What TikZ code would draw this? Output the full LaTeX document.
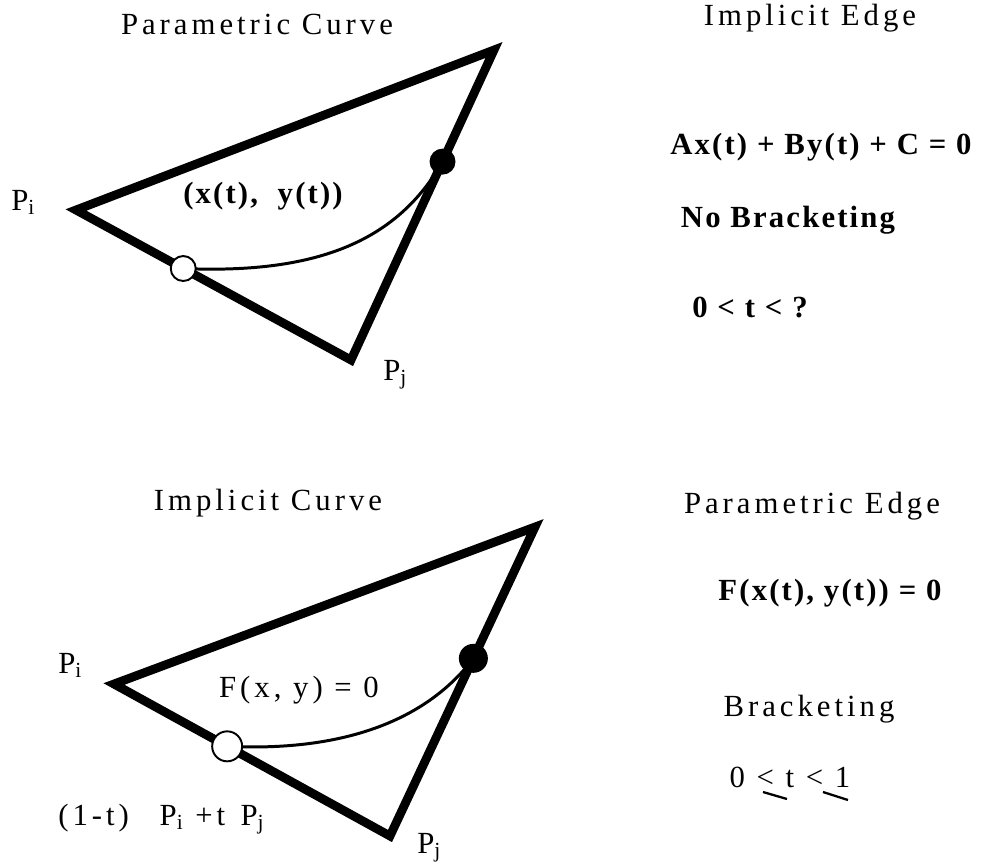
\documentclass[tikz,border=0pt]{standalone}
\usepackage{fontspec}
\setmainfont[LetterSpace=13,BoldFeatures={LetterSpace=7}]{Liberation Serif}
\usetikzlibrary{calc}
\tikzset{
  lbl/.style      = {inner sep=0pt, anchor=base, font=\fontsize{17.5}{20}\selectfont},
  lblb/.style     = {lbl, font=\fontsize{17.5}{20}\selectfont\bfseries},
  triedge/.style  = {line width=5pt, line join=miter},
  pcurve/.style   = {line width=1.7pt},
  hitdot/.style   = {circle, fill=black, inner sep=0pt, minimum size=0.52cm},
  startdot/.style = {circle, draw, fill=white, line width=1.1pt, inner sep=0pt, minimum size=0.5cm}
}

\begin{document}
\begin{tikzpicture}[x=0.02cm, y=-0.02cm]
  \useasboundingbox (0,0) rectangle (985,867);

  % parametric curve against an implicit edge
  \coordinate (pi1) at (76,210);
  \coordinate (pk1) at (494,50);
  \coordinate (pj1) at (351,360);
  \draw[triedge] (pi1) -- (pk1) -- (pj1) -- cycle;
  \path (pi1) -- (pj1) coordinate[pos=0.39] (s1);
  \path (pk1) -- (pj1) coordinate[pos=0.36] (h1);
  \draw[pcurve] (s1) .. controls +(138,6) and +(-44,77) .. (h1);
  \node[hitdot]   (hd1) at (h1) {};
  \node[startdot] (sd1) at (s1) {};

  \node[lbl]  (t1)  at (257,34)  {Parametric Curve};
  \node[lbl, anchor=base west] (lpi1) at (11,210) {P\textsubscript{i}};
  \node[lblb] (eq1) at (263,203) {(x(t), \ y(t))};
  \node[lbl, anchor=base west] (lpj1) at (383,380) {P\textsubscript{j}};

  \node[lbl]  (t2) at (810,25)  {Implicit Edge};
  \node[lblb] (e2) at (821,154) {Ax(t) + By(t) + C = 0};
  \node[lblb] (nb) at (788,227) {No Bracketing};
  \node[lblb] (r1) at (750,317) {0 < t < ?};

  % implicit curve against a parametric edge
  \coordinate (pi2) at (114,684);
  \coordinate (pk2) at (535,527);
  \coordinate (pj2) at (390,836);
  \draw[triedge] (pi2) -- (pk2) -- (pj2) -- cycle;
  \path (pi2) -- (pj2) coordinate[pos=0.41] (s2);
  \path (pk2) -- (pj2) coordinate[pos=0.425] (h2);
  \draw[pcurve] (s2) .. controls +(125,6) and +(-43,57) .. (h2);
  \node[hitdot, minimum size=0.58cm]  (hd2) at (h2) {};
  \node[startdot, minimum size=0.6cm] (sd2) at (s2) {};

  \node[lbl] (t3)  at (268,510) {Implicit Curve};
  \node[lbl, anchor=base west] (lpi2) at (58,673) {P\textsubscript{i}};
  \node[lbl] (eq3) at (299,697) {F(x, y) = 0};
  \node[lbl, anchor=base west] (lin) at (58,825)
    {(1-t)\quad P\textsubscript{i} +t\enspace P\textsubscript{j}};
  \node[lbl, anchor=base west] (lpj2) at (417,853) {P\textsubscript{j}};

  \node[lbl]  (t4) at (812,513) {Parametric Edge};
  \node[lblb] (e4) at (830,600) {F(x(t), y(t)) = 0};
  \node[lbl]  (br) at (809,716) {Bracketing};
  \node[lbl]  (r2) at (790,787) {0 < t < 1};
  \draw[line width=1.3pt] (763,792) -- (787,799);
  \draw[line width=1.3pt] (823,792) -- (848,800);
\end{tikzpicture}
\end{document}
